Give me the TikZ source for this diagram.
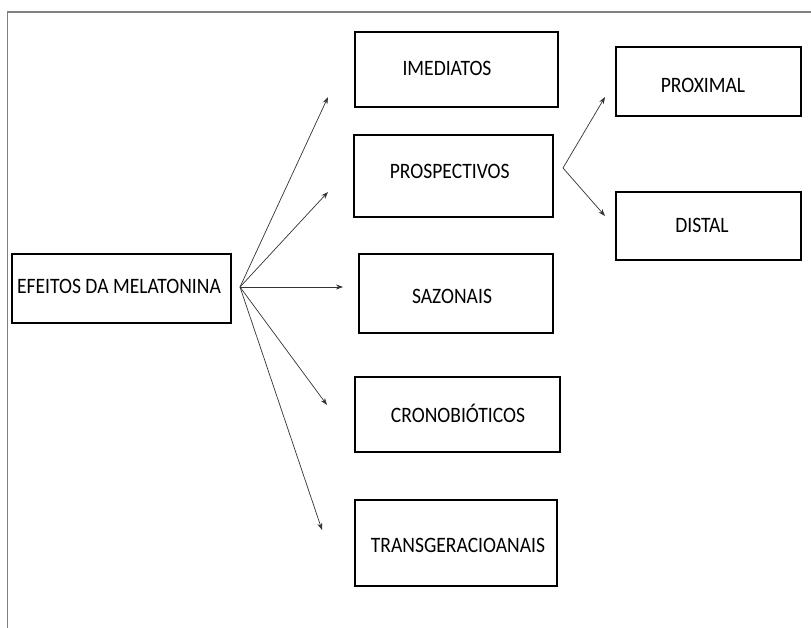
\documentclass[tikz,border=0pt]{standalone}
\usepackage{fontspec}
\usepackage{graphicx}
\setmainfont{Carlito}
\usetikzlibrary{arrows.meta}
\newcommand{\narrowtxt}[1]{\scalebox{0.89}[1]{#1}}
\begin{document}
\begin{tikzpicture}[x=1pt,y=-1pt,
  box/.style={draw=black,line width=1.8pt,inner sep=0pt,rectangle},
  lbl/.style={font=\fontsize{22}{26}\selectfont,inner sep=0pt,anchor=base},
  arr/.style={draw=black!80,line width=0.7pt,-{Stealth[length=7pt,width=5pt]}},
  frameline/.style={draw=black!50,line width=1.2pt}]
\useasboundingbox (0,0) rectangle (811,628);
\draw[frameline] (7.5,628) -- (7.5,12) -- (811,12);
% boxes
\node[box,minimum width=219pt,minimum height=69pt] (efeitos) at (121.5,288.5) {};
\node[box,minimum width=203pt,minimum height=75pt] (imed) at (456.5,69.5) {};
\node[box,minimum width=199pt,minimum height=82pt] (prosp) at (453.5,176) {};
\node[box,minimum width=194pt,minimum height=79pt] (saz) at (456,293.5) {};
\node[box,minimum width=205pt,minimum height=75pt] (crono) at (457.5,414.5) {};
\node[box,minimum width=202pt,minimum height=86pt] (trans) at (456,543) {};
\node[box,minimum width=185pt,minimum height=69pt] (prox) at (708.5,81.5) {};
\node[box,minimum width=185pt,minimum height=68pt] (dist) at (708.5,226) {};
% labels
\node[lbl] (efeitos-t) at (119,294) {\narrowtxt{EFEITOS DA MELATONINA}};
\node[lbl] (imed-t) at (447,76) {\narrowtxt{IMEDIATOS}};
\node[lbl] (prosp-t) at (449.7,179) {\narrowtxt{PROSPECTIVOS}};
\node[lbl] (saz-t) at (452,303) {\narrowtxt{SAZONAIS}};
\node[lbl] (crono-t) at (458,422) {\narrowtxt{CRONOBIÓTICOS}};
\node[lbl] (trans-t) at (458,552) {\narrowtxt{TRANSGERACIOANAIS}};
\node[lbl] (prox-t) at (703,93) {\narrowtxt{PROXIMAL}};
\node[lbl] (dist-t) at (702,233) {\narrowtxt{DISTAL}};
% connector points
\coordinate (o) at (240,287);
\coordinate (t-imed) at (328,97);
\coordinate (t-prosp) at (328,192);
\coordinate (t-saz) at (343,287);
\coordinate (t-crono) at (327,405);
\coordinate (t-trans) at (322,530);
\coordinate (s) at (563,168);
\coordinate (t-prox) at (605,97);
\coordinate (t-dist) at (605,216);
\draw[arr] (o) -- (t-imed);
\draw[arr] (o) -- (t-prosp);
\draw[arr] (o) -- (t-saz);
\draw[arr] (o) -- (t-crono);
\draw[arr] (o) -- (t-trans);
\draw[arr] (s) -- (t-prox);
\draw[arr] (s) -- (t-dist);
\end{tikzpicture}
\end{document}
